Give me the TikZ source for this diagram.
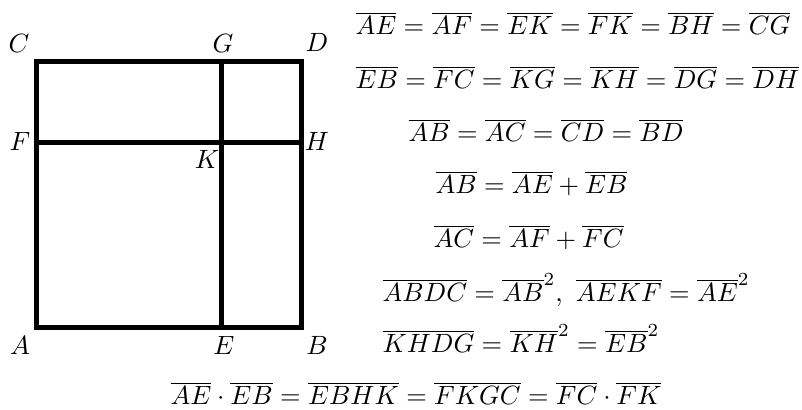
\documentclass[tikz,border=0pt]{standalone}
\begin{document}
\begin{tikzpicture}[x=0.4pt,y=-0.4pt,
  frame/.style={line width=2pt,line join=miter},
  lbl/.style={inner sep=0pt,anchor=center,scale=1.057},
  eq/.style={inner sep=0pt,anchor=base west,scale=1.057}]
\useasboundingbox (0,0) rectangle (802,410);
\coordinate (A) at (36,327.7);
\coordinate (B) at (301.7,327.7);
\coordinate (C) at (36,61.7);
\coordinate (D) at (301.7,61.7);
\coordinate (E) at (221.7,327.7);
\coordinate (G) at (221.7,61.7);
\coordinate (F) at (36,142.3);
\coordinate (H) at (301.7,142.3);
\coordinate (K) at (221.7,142.3);
\draw[frame] (A) -- (B) -- (D) -- (C) -- cycle;
\draw[frame] (E) -- (G);
\draw[frame] (F) -- (H);
\node[lbl] (lA) at (20,345) {$A$};
\node[lbl] (lE) at (224,345) {$E$};
\node[lbl] (lB) at (317,345) {$B$};
\node[lbl] (lC) at (19,43.5) {$C$};
\node[lbl] (lG) at (223,43.5) {$G$};
\node[lbl] (lD) at (317,42) {$D$};
\node[lbl] (lF) at (20,141.5) {$F$};
\node[lbl] (lH) at (317,141) {$H$};
\node[lbl] (lK) at (207,159) {$K$};
\node[eq] (e1) at (355,35) {$\overline{AE}=\overline{AF}=\overline{EK}=\overline{FK}=\overline{BH}=\overline{CG}$};
\node[eq] (e2) at (355,89) {$\overline{EB}=\overline{FC}=\overline{KG}=\overline{KH}=\overline{DG}=\overline{DH}$};
\node[eq] (e3) at (408,142) {$\overline{AB}=\overline{AC}=\overline{CD}=\overline{BD}$};
\node[eq] (e4) at (435,194) {$\overline{AB}=\overline{AE}+\overline{EB}$};
\node[eq] (e5) at (433,248) {$\overline{AC}=\overline{AF}+\overline{FC}$};
\node[eq] (e6) at (382,302) {$\overline{ABDC}=\overline{AB}^2,\ \overline{AEKF}=\overline{AE}^2$};
\node[eq] (e7) at (382,353) {$\overline{KHDG}=\overline{KH}^2=\overline{EB}^2$};
\node[eq] (e8) at (170,405) {$\overline{AE}\cdot\overline{EB}=\overline{EBHK}=\overline{FKGC}=\overline{FC}\cdot\overline{FK}$};
\end{tikzpicture}
\end{document}
